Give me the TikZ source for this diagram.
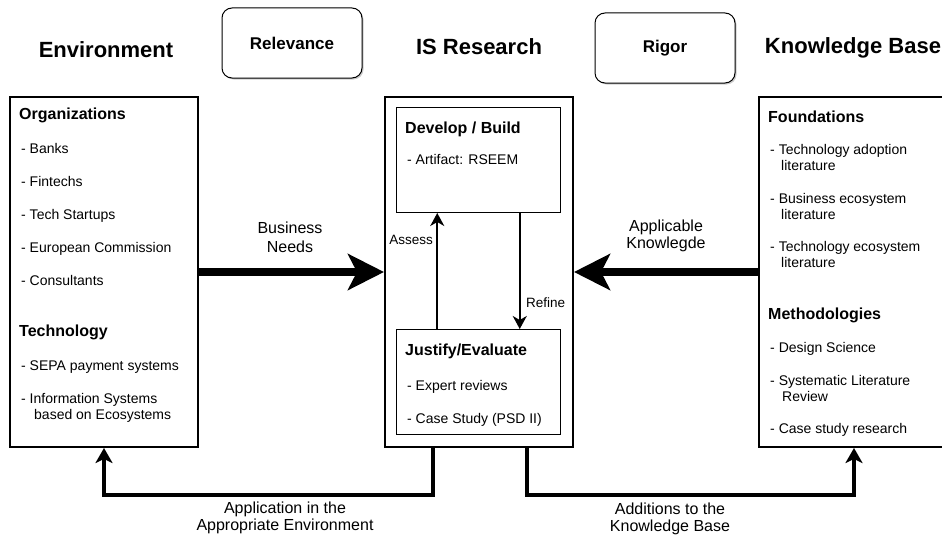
\documentclass[tikz,border=0pt]{standalone}
\usepackage{fontspec}
\setmainfont{Liberation Sans}
\usetikzlibrary{arrows.meta,calc,shadows}

\begin{document}
\begin{tikzpicture}[x=1pt, y=-1pt, >=Stealth,
		frame/.style={draw, line width=2pt, anchor=north west, inner sep=0, minimum height=350pt},
		inbox/.style={draw, line width=1pt, anchor=north west, inner sep=0, minimum width=164pt, minimum height=105pt},
		pill/.style={draw, line width=1pt, rounded corners=10pt, fill=white, minimum width=140pt, minimum height=70pt,
			font=\fontsize{17}{20}\bfseries\selectfont, drop shadow={shadow xshift=1.5pt, shadow yshift=-1.5pt, fill=black!40}},
		title/.style={anchor=base, font=\fontsize{22}{26}\bfseries\selectfont},
		head/.style={anchor=base west, inner sep=0, font=\fontsize{16}{19}\bfseries\selectfont},
		item/.style={anchor=base west, inner sep=0, font=\fontsize{14}{16}\selectfont},
		lbl/.style={anchor=north, inner sep=0, align=center, font=\fontsize{16}{17}\selectfont},
		note/.style={inner sep=0, font=\fontsize{13.5}{16}\selectfont},
		fat/.style={line width=8pt, -{Stealth[length=36pt, width=36pt, inset=9pt]}},
		loop/.style={line width=4pt, -{Stealth[length=15pt, width=17pt, inset=4pt]}},
		iter/.style={line width=2pt, -{Stealth[length=13pt, width=14pt, inset=4pt]}}]
	\useasboundingbox (0,0) rectangle (942,535);
	% titles and the two middle boxes
	\node[title] (envt) at (106,58) {Environment};
	\node[title] (isrt) at (479,55) {IS Research};
	\node[title] (kbt) at (853,53) {Knowledge Base};
	\node[pill] (rel) at (292,43) {Relevance};
	\node[pill] (rig) at (665,48) {Rigor};
	% the three columns
	\node[frame, minimum width=188pt] (env) at (9,96) {};
	\node[frame, minimum width=188pt] (isr) at (384,96) {};
	\node[frame, minimum width=190pt] (kb) at (758,96) {};
	\node[inbox] (dev) at (396,107) {};
	\node[inbox] (jus) at (396,329) {};
	% environment
	\node[head] (org) at (19,119) {Organizations};
	\foreach \y/\t in {153/Banks, 186/Fintechs, 219/Tech Startups, 252/European Commission, 285/Consultants}
		\node[item] (org-\y) at (21,\y) {- \t};
	\node[head] (tec) at (19,336) {Technology};
	\foreach \y/\t in {370/SEPA payment systems, 403/Information Systems}
		\node[item] (tec-\y) at (21,\y) {- \t};
	\node[item] (tec-419) at (34,419) {based on Ecosystems};
	% is research
	\node[head] (dvt) at (405,133) {Develop / Build};
	\node[item] (dvt-164) at (407,164) {- Artifact: RSEEM};
	\node[head] (jst) at (405,355) {Justify/Evaluate};
	\foreach \y/\t in {390/Expert reviews, 423/Case Study (PSD II)}
		\node[item] (jst-\y) at (407,\y) {- \t};
	% knowledge base
	\node[head] (fnd) at (768,122) {Foundations};
	\foreach \y/\t in {154/Technology adoption, 203/Business ecosystem, 251/Technology ecosystem} {
		\node[item] (fnd-\y) at (770,\y) {- \t};
		\node[item] (fnd-\y-b) at (781,\y+16) {literature};
	}
	\node[head] (mth) at (768,319) {Methodologies};
	\foreach \y/\t in {352/Design Science, 385/Systematic Literature, 433/Case study research}
		\node[item] (mth-\y) at (770,\y) {- \t};
	\node[item] (mth-401) at (782,401) {Review};
	% connectors
	\draw[fat] (env.east) -- (isr.west);
	\draw[fat] (kb.west) -- (isr.east);
	\draw[iter] ($(jus.north west)!.25!(jus.north east)$) -- ($(dev.south west)!.25!(dev.south east)$);
	\draw[iter] ($(dev.south west)!.75!(dev.south east)$) -- ($(jus.north west)!.75!(jus.north east)$);
	\draw[loop] ($(isr.south west)!.26!(isr.south east)$) -- ++(0,47) -| (env.south);
	\draw[loop] ($(isr.south west)!.75!(isr.south east)$) -- ++(0,47) -| (kb.south);
	% labels
	\node[lbl] (bn) at (290,221.5) {Business\\[2pt]Needs};
	\node[lbl] (ak) at (666,220) {Applicable\\Knowlegde};
	\node[note, anchor=base east] (as) at (433,244) {Assess};
	\node[note, anchor=base west] (rf) at (526,307) {Refine};
	\node[lbl] (ap) at (285,501.5) {Application in the\\Appropriate Environment};
	\node[lbl] (ad) at (670,503) {Additions to the\\Knowledge Base};
\end{tikzpicture}
\end{document}
